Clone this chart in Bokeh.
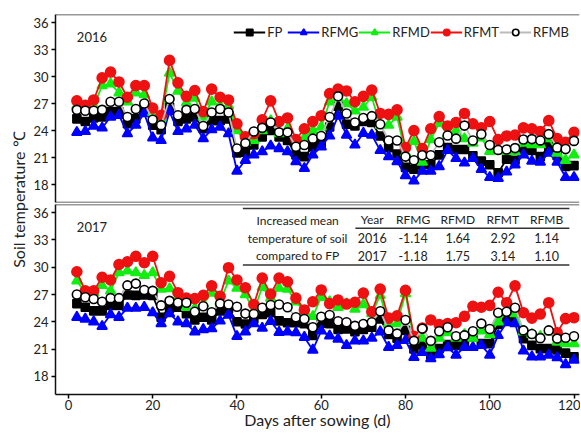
import math
from bokeh.plotting import figure
from bokeh.models import Range1d, FixedTicker, Label, Legend, LegendItem, Span
from bokeh.layouts import row, column
from bokeh.embed import file_html
from bokeh.resources import INLINE

# ---------------- data ----------------
days = [2, 4, 6, 8, 10, 12, 14, 16, 18, 20, 22, 24, 26, 28, 30, 32, 34, 36, 38, 40,
        42, 44, 46, 48, 50, 52, 54, 56, 58, 60, 62, 64, 66, 68, 70, 72, 74, 76, 78, 80,
        82, 84, 86, 88, 90, 92, 94, 96, 98, 100, 102, 104, 106, 108, 110, 112, 114, 116, 118, 120]

fp_2016 = [25.3, 25.0, 25.4, 25.5, 26.1, 26.1, 24.75, 25.3, 26.5, 24.6, 24.1, 26.6, 25.0, 25.3, 25.5,
           24.2, 25.1, 25.1, 25.3, 21.5, 21.6, 22.4, 23.3, 24.0, 23.3, 22.9, 21.3, 21.1, 22.2, 22.6,
           24.4, 26.7, 24.7, 24.5, 25.0, 24.9, 23.4, 22.1, 21.4, 19.9, 19.7, 20.2, 20.2, 21.3, 22.1,
           21.9, 21.9, 21.2, 20.6, 20.2, 19.3, 20.8, 20.7, 21.9, 21.8, 21.1, 22.2, 21.2, 20.0, 20.1]
rfmg_2016 = [23.8, 23.9, 24.5, 24.3, 25.5, 25.7, 23.65, 24.6, 25.9, 23.2, 22.9, 26.1, 23.9, 24.2, 24.6,
             23.1, 24.1, 24.4, 23.65, 19.5, 20.7, 21.3, 21.65, 22.3, 22.0, 21.65, 20.55, 19.8, 21.3, 22.2,
             23.4, 25.6, 23.5, 22.4, 23.7, 23.5, 21.8, 21.1, 20.55, 19.0, 18.4, 19.5, 19.5, 20.0, 21.8,
             20.9, 20.4, 20.9, 19.7, 18.8, 18.7, 19.4, 20.2, 21.3, 20.6, 20.5, 21.5, 20.5, 18.8, 18.8]
rfmd_2016 = [26.75, 26.4, 26.75, 29.0, 29.2, 28.2, 27.2, 28.2, 28.0, 26.0, 25.4, 30.4, 28.4, 27.1, 27.6,
             25.5, 27.2, 26.75, 26.75, 24.0, 22.7, 22.9, 24.0, 25.1, 23.65, 24.2, 22.3, 23.2, 24.0, 24.4,
             27.2, 27.6, 27.0, 26.2, 26.6, 27.7, 24.6, 24.6, 25.5, 21.5, 22.8, 20.5, 23.0, 24.8, 23.6,
             24.0, 23.1, 22.6, 23.2, 21.7, 21.8, 21.7, 21.65, 22.6, 22.45, 22.45, 23.1, 21.5, 20.7, 21.3]
rfmt_2016 = [27.3, 26.8, 27.4, 29.85, 30.5, 29.4, 27.7, 29.0, 29.0, 26.5, 25.7, 31.8, 29.3, 27.8, 28.45,
             26.1, 28.6, 27.7, 27.4, 24.75, 23.3, 23.65, 25.2, 27.3, 25.0, 25.4, 23.0, 24.2, 25.0, 25.65,
             28.1, 28.6, 28.4, 27.2, 27.8, 28.5, 25.9, 25.8, 26.3, 22.1, 24.0, 22.0, 24.2, 25.55, 24.5,
             24.9, 25.9, 24.75, 24.3, 25.0, 23.0, 23.4, 23.5, 24.3, 24.2, 23.9, 25.1, 23.1, 22.7, 23.8]
rfmb_2016 = [26.3, 26.2, 26.2, 26.3, 27.2, 27.2, 25.5, 26.4, 27.0, 25.2, 24.6, 27.5, 25.7, 26.3, 26.4,
             24.5, 26.0, 26.4, 26.0, 22.0, 22.6, 23.9, 24.3, 24.9, 23.8, 23.8, 22.2, 22.4, 23.1, 23.4,
             25.5, 27.8, 25.9, 24.9, 25.4, 25.6, 24.7, 22.9, 22.9, 21.1, 20.7, 21.25, 21.25, 22.7, 23.45,
             23.1, 24.55, 22.9, 23.6, 22.4, 21.85, 21.9, 22.05, 23.0, 23.05, 22.9, 23.6, 22.1, 21.95, 22.85]

fp_2017 = [26.0, 25.6, 25.2, 25.2, 25.8, 25.8, 26.95, 26.9, 26.95, 26.9, 24.5, 25.5, 25.6, 24.9, 24.2,
           24.5, 24.2, 25.2, 25.45, 24.0, 23.75, 24.3, 24.8, 25.0, 24.1, 23.9, 23.9, 23.8, 22.5, 23.85,
           23.8, 23.15, 23.2, 22.9, 23.15, 23.4, 24.3, 22.6, 22.2, 23.05, 21.0, 21.45, 20.35, 21.05, 21.5,
           21.4, 21.5, 22.35, 21.6, 21.6, 23.7, 24.3, 24.35, 22.15, 21.4, 21.05, 21.05, 20.9, 20.55, 20.15]
rfmg_2017 = [24.5, 24.3, 24.0, 23.5, 24.8, 24.5, 25.5, 25.5, 25.6, 25.0, 23.8, 24.9, 24.0, 23.8, 22.9,
             23.15, 23.25, 24.1, 24.75, 22.4, 22.9, 23.8, 23.3, 24.05, 22.85, 22.9, 22.8, 22.3, 20.9, 23.0,
             22.45, 22.1, 21.4, 21.9, 21.9, 22.2, 22.9, 21.2, 21.4, 21.95, 20.1, 20.65, 19.95, 20.4, 21.15,
             20.35, 21.2, 21.2, 21.4, 20.35, 22.5, 23.9, 23.8, 20.8, 20.15, 20.15, 20.35, 20.05, 19.3, 19.8]
rfmd_2017 = [28.5, 27.2, 27.2, 28.0, 27.4, 29.4, 29.6, 29.4, 29.1, 29.4, 27.6, 27.65, 26.7, 25.6, 25.5,
             26.0, 27.15, 26.2, 28.5, 27.7, 27.0, 25.2, 27.8, 26.6, 27.7, 27.6, 26.2, 25.1, 24.6, 26.7,
             26.2, 25.6, 26.0, 25.4, 25.9, 24.9, 26.9, 23.8, 23.8, 27.1, 22.0, 22.2, 21.1, 22.2, 22.8,
             22.2, 22.6, 22.2, 23.0, 22.6, 24.0, 25.1, 24.9, 22.9, 22.6, 22.4, 22.9, 21.8, 21.6, 21.6]
rfmt_2017 = [29.5, 27.4, 27.4, 28.9, 28.6, 30.3, 30.6, 31.2, 30.5, 31.2, 28.3, 29.0, 27.2, 26.6, 26.55,
             26.9, 27.95, 26.8, 29.95, 28.6, 27.75, 25.9, 28.8, 27.05, 28.8, 28.4, 26.6, 25.3, 26.2, 27.5,
             26.0, 26.4, 25.95, 26.15, 27.15, 25.1, 27.6, 24.4, 24.65, 27.45, 22.4, 23.3, 24.2, 23.7, 23.8,
             23.9, 24.6, 25.7, 25.6, 25.8, 27.25, 26.1, 27.95, 25.0, 24.4, 24.85, 26.1, 22.8, 24.35, 24.45]
rfmb_2017 = [27.0, 26.7, 26.5, 26.2, 26.6, 26.6, 28.0, 28.2, 27.5, 27.4, 25.8, 26.3, 26.1, 26.1, 25.1,
             25.7, 25.05, 26.0, 25.9, 25.65, 24.9, 24.85, 25.55, 25.85, 25.9, 25.6, 24.5, 24.3, 23.4, 24.55,
             24.75, 24.05, 23.95, 23.55, 23.75, 23.95, 25.15, 23.05, 22.7, 24.2, 21.9, 23.25, 21.9, 22.95, 23.4,
             22.4, 22.5, 22.95, 23.8, 23.2, 25.0, 25.1, 25.55, 23.05, 22.65, 22.2, 23.05, 22.15, 22.25, 22.4]

series_names = ["FP", "RFMG", "RFMD", "RFMT", "RFMB"]
data_2016 = [fp_2016, rfmg_2016, rfmd_2016, rfmt_2016, rfmb_2016]
data_2017 = [fp_2017, rfmg_2017, rfmd_2017, rfmt_2017, rfmb_2017]

y_ticks = [18, 21, 24, 27, 30, 33, 36]
x_ticks = [0, 20, 40, 60, 80, 100, 120]

table_header = ["Year", "RFMG", "RFMD", "RFMT", "RFMB"]
table_rows = [["2016", "-1.14", "1.64", "2.92", "1.14"],
              ["2017", "-1.18", "1.75", "3.14", "1.10"]]
table_desc = ["Increased mean", "temperature of soil", "compared to FP"]

# ---------------- styles ----------------
FONT = "Lato"
TXT = "#222222"
X_RANGE = Range1d(-3.07, 121.3)
Y_START, Y_END = 16.0, 36.9

# line color, marker, marker size, fill color, marker line color
styles = {
    "FP":   ("#000000", "square",   8,  "#000000", "#000000"),
    "RFMG": ("#0000FF", "triangle", 10, "#0000FF", "#0000FF"),
    "RFMD": ("#11EE11", "triangle", 10, "#11EE11", "#11EE11"),
    "RFMT": ("#EE1111", "circle",   10, "#EE1111", "#EE1111"),
    "RFMB": ("#BBBBBB", "circle",   9,  "#FFFFFF", "#000000"),
}

LAB_W = 30
FIG_W = 550
FRAME_H = 188


def make_panel(height, datasets, year_label, bottom_axis, border_top, border_bottom):
    p = figure(width=FIG_W, height=height, x_range=X_RANGE,
               y_range=Range1d(Y_START, Y_END),
               output_backend="svg", toolbar_location=None,
               min_border_left=24, min_border_right=1,
               min_border_top=border_top, min_border_bottom=border_bottom)
    p.outline_line_color = None
    p.grid.visible = False
    p.background_fill_color = "white"

    yax = p.yaxis[0]
    yax.ticker = FixedTicker(ticks=y_ticks)
    yax.minor_tick_line_color = None
    yax.major_tick_in = 0
    yax.major_tick_out = 4
    yax.axis_line_width = 1.5
    yax.axis_line_color = "#111111"
    yax.major_tick_line_width = 1.5
    yax.major_label_text_font = FONT
    yax.major_label_text_font_size = "13px"
    yax.major_label_text_color = TXT
    yax.major_label_standoff = 3

    xax = p.xaxis[0]
    if bottom_axis:
        xax.ticker = FixedTicker(ticks=x_ticks)
        xax.minor_tick_line_color = None
        xax.major_tick_in = 0
        xax.major_tick_out = 4
        xax.axis_line_width = 1.5
        xax.axis_line_color = "#111111"
        xax.major_tick_line_width = 1.5
        xax.major_label_text_font = FONT
        xax.major_label_text_font_size = "13px"
        xax.major_label_text_color = TXT
        xax.major_label_standoff = 1
        xax.axis_label = "Days after sowing (d)"
        xax.axis_label_text_font = FONT
        xax.axis_label_text_font_style = "normal"
        xax.axis_label_text_font_size = "16px"
        xax.axis_label_text_color = TXT
        xax.axis_label_standoff = -3
    else:
        xax.visible = False
        p.add_layout(Span(location=Y_START, dimension="width",
                          line_color="#333333", line_width=1.5))
    p.add_layout(Span(location=Y_END, dimension="width",
                      line_color="#333333", line_width=1.5))

    items = []
    for name, vals in zip(series_names, datasets):
        lc, mk, ms, fc, mlc = styles[name]
        rl = p.line(days, vals, line_color=lc, line_width=1.8)
        rs = p.scatter(days, vals, marker=mk, size=ms, fill_color=fc,
                       line_color=mlc, line_width=1.6)
        items.append(LegendItem(label=name, renderers=[rl, rs]))

    p.add_layout(Label(x=2, y=34.4, text=year_label, text_font=FONT,
                       text_font_size="13px", text_color=TXT,
                       text_baseline="middle", text_align="left"))
    return p, items


top, items = make_panel(14 + FRAME_H + 1, data_2016, "2016", False, 14, 1)
legend = Legend(items=items, orientation="horizontal", location="top_right",
                label_text_font=FONT, label_text_font_size="13px",
                label_text_color=TXT, glyph_width=32, glyph_height=16,
                label_standoff=2, spacing=0, padding=2, margin=10,
                background_fill_alpha=0, border_line_color=None)
top.add_layout(legend)

bottom, _ = make_panel(1 + FRAME_H + 39, data_2017, "2017", True, 1, 0)

# table inside the 2017 panel (data-coordinate layout constants)
col_x = [72.1, 81.8, 92.4, 103.1, 113.5]
desc_x = 54.4
header_y = 35.25
row_y = [33.2, 31.25]
desc_y = [35.1, 33.2, 31.3]
tab_left, tab_right, head_left = 41.4, 118.9, 68.1
line_top, line_head, line_bottom = 36.45, 34.3, 30.25

for s, yy in zip(table_desc, desc_y):
    bottom.add_layout(Label(x=desc_x, y=yy, text=s, text_font=FONT,
                            text_font_size="12px", text_color=TXT,
                            text_align="center", text_baseline="middle"))
for s, xx in zip(table_header, col_x):
    bottom.add_layout(Label(x=xx, y=header_y, text=s, text_font=FONT,
                            text_font_size="12px", text_color=TXT,
                            text_align="center", text_baseline="middle"))
for r, yy in zip(table_rows, row_y):
    for s, xx in zip(r, col_x):
        bottom.add_layout(Label(x=xx, y=yy, text=s, text_font=FONT,
                                text_font_size="12.5px", text_color=TXT,
                                text_align="center", text_baseline="middle"))
bottom.segment(x0=[tab_left, head_left, tab_left], x1=[tab_right, tab_right, tab_right],
               y0=[line_top, line_head, line_bottom], y1=[line_top, line_head, line_bottom],
               line_color="#333333", line_width=1.5)

# y-axis title shared by both panels
total_h = top.height + bottom.height
lab = figure(width=LAB_W, height=total_h, x_range=Range1d(0, 1), y_range=Range1d(0, 1),
             output_backend="svg", toolbar_location=None, min_border=0)
lab.axis.visible = False
lab.grid.visible = False
lab.outline_line_color = None
lab.add_layout(Label(x=0.6, y=0.538, text="Soil temperature \u2103", angle=math.pi / 2,
                     text_font=FONT, text_font_size="16px", text_color=TXT,
                     text_align="center", text_baseline="middle"))

layout = row(lab, column(top, bottom))
open("out.html", "w").write(file_html(layout, INLINE))
